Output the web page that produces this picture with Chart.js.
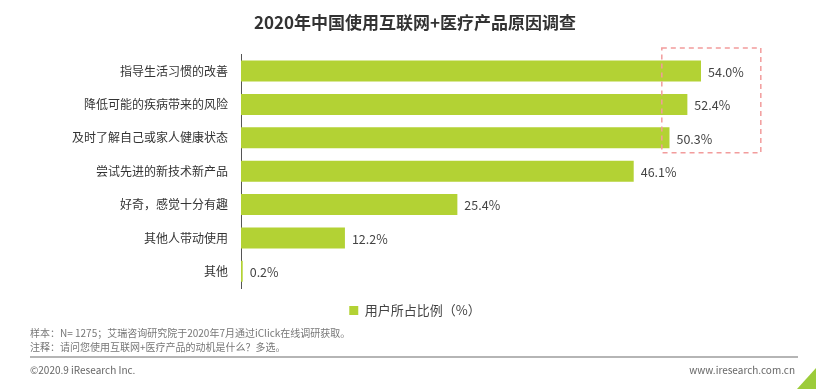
<!DOCTYPE html>
<html>
<head>
<meta charset="utf-8">
<script src="https://cdn.jsdelivr.net/npm/chart.js@4"></script>
<style>
  html, body { margin: 0; padding: 0; background: #fff; }
  #wrap { width: 816px; height: 389px; }
</style>
</head>
<body>
<div id="wrap"><canvas id="reasonChart" width="816" height="389"></canvas></div>
<script>
    const categories = [
      "指导生活习惯的改善",
      "降低可能的疾病带来的风险",
      "及时了解自己或家人健康状态",
      "尝试先进的新技术新产品",
      "好奇，感觉十分有趣",
      "其他人带动使用",
      "其他"
    ];
    const shares = [54.0, 52.4, 50.3, 46.1, 25.4, 12.2, 0.2];
    const seriesName = "用户所占比例（%）";
    const chartTitle = "2020年中国使用互联网+医疗产品原因调查";
    const notes = [
      "样本：N= 1275；艾瑞咨询研究院于2020年7月通过iClick在线调研获取。",
      "注释：请问您使用互联网+医疗产品的动机是什么？多选。"
    ];
    const copyright = "©2020.9 iResearch Inc.";
    const website = "www.iresearch.com.cn";

    const cjk = "'Noto Sans CJK SC', 'Microsoft YaHei', sans-serif";
    const barColor = "#b3d234";

    // value labels at the end of each bar
    const valueLabels = {
      id: "valueLabels",
      afterDatasetsDraw(chart) {
        const c = chart.ctx;
        const meta = chart.getDatasetMeta(0);
        c.save();
        c.font = "12.5px " + cjk;
        c.fillStyle = "#444";
        c.textAlign = "left";
        c.textBaseline = "middle";
        meta.data.forEach((bar, i) => {
          c.fillText(shares[i].toFixed(1) + "%", bar.x + 7, bar.y + 1);
        });
        c.restore();
      }
    };

    // dashed highlight box, notes and footer
    const extras = {
      id: "extras",
      afterDraw(chart) {
        const c = chart.ctx;
        const meta = chart.getDatasetMeta(0);
        const x = chart.scales.x;
        c.save();

        // highlight around the top three
        const top = meta.data[0].y - 23;
        const bottom = meta.data[2].y + 15;
        c.strokeStyle = "#f29c9c";
        c.lineWidth = 1.5;
        c.setLineDash([5, 4]);
        c.strokeRect(x.getPixelForValue(49.4), top, 99, bottom - top);
        c.setLineDash([]);

        // notes
        c.font = "10px " + cjk;
        c.fillStyle = "#777";
        c.textAlign = "left";
        c.textBaseline = "middle";
        c.fillText(notes[0], 30, 333);
        c.fillText(notes[1], 30, 347);

        // separator
        c.strokeStyle = "#b5b5b5";
        c.lineWidth = 2;
        c.beginPath();
        c.moveTo(30, 357);
        c.lineTo(798, 357);
        c.stroke();

        // footer
        c.font = "10px " + cjk;
        c.fillStyle = "#666";
        c.fillText(copyright, 30, 370);
        c.textAlign = "right";
        c.fillText(website, 795, 370);

        // corner mark
        c.fillStyle = "#9ccc3a";
        c.beginPath();
        c.moveTo(816, 368);
        c.lineTo(816, 389);
        c.lineTo(797, 389);
        c.closePath();
        c.fill();
        c.restore();
      }
    };

    const ctx = document.getElementById("reasonChart").getContext("2d");
    const chart = new Chart(ctx, {
      type: "bar",
      data: {
        labels: categories,
        datasets: [
          {
            label: seriesName,
            data: shares,
            backgroundColor: barColor,
            borderWidth: 0,
            categoryPercentage: 1,
            barPercentage: 0.63
          }
        ]
      },
      options: {
        indexAxis: "y",
        responsive: false,
        animation: false,
        layout: { padding: { left: 14, right: 0, top: 0, bottom: 62 } },
        scales: {
          x: {
            display: false,
            min: 0,
            max: 67.5
          },
          y: {
            grid: { display: false },
            border: { display: true, color: "#555", width: 1 },
            ticks: {
              color: "#333",
              padding: 5,
              font: { size: 12, family: cjk }
            },
            afterFit(scale) { scale.width = 227; }
          }
        },
        plugins: {
          title: {
            display: true,
            text: chartTitle,
            color: "#333",
            font: { size: 17, weight: "bold", family: cjk },
            padding: { top: 12, bottom: 22 }
          },
          legend: {
            position: "bottom",
            labels: {
              color: "#444",
              boxWidth: 9,
              boxHeight: 9,
              padding: 16,
              font: { size: 13, family: cjk }
            }
          },
          tooltip: { enabled: false }
        }
      },
      plugins: [valueLabels, extras]
    });
</script>
</body>
</html>
